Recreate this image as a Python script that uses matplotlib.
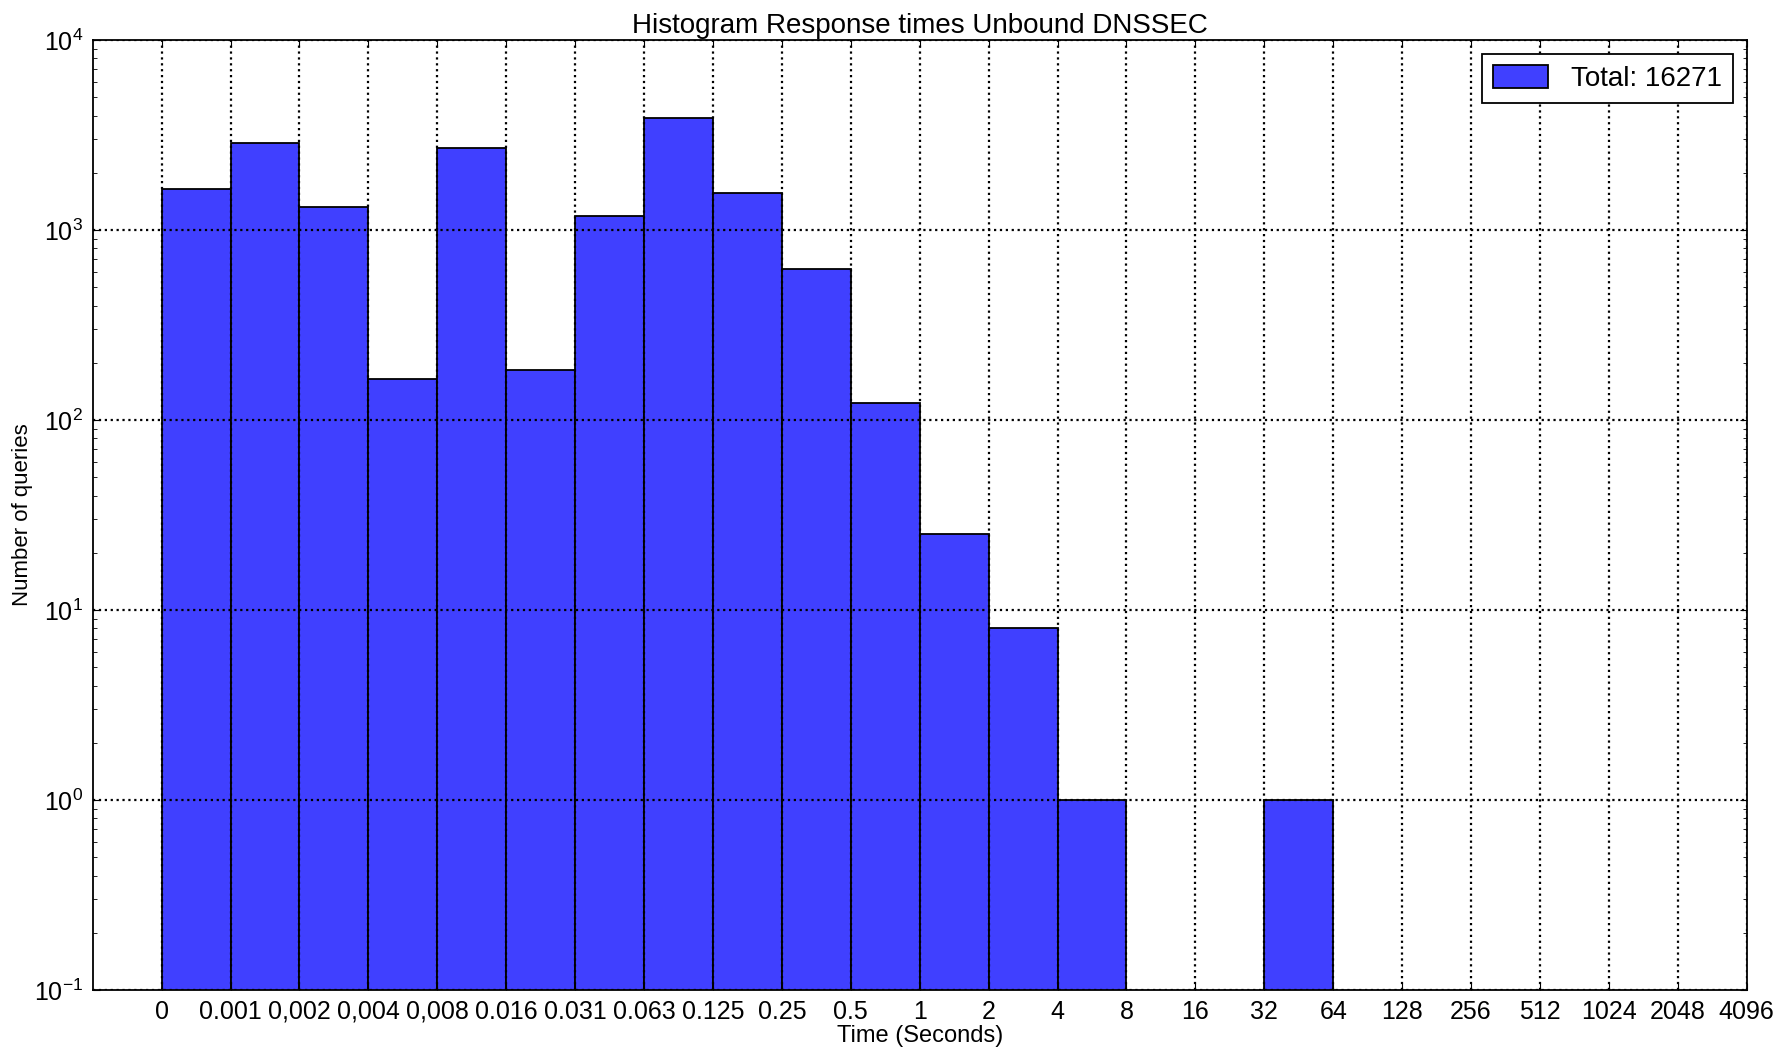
import matplotlib
matplotlib.use("Agg")
import matplotlib.pyplot as plt
import numpy as np

plt.rcParams['font.family'] = ['Liberation Sans', 'DejaVu Sans']

# bin edge labels (seconds) and query counts per bin
edge_labels = ['0', '0.001', '0,002', '0,004', '0,008', '0.016', '0.031', '0.063',
               '0.125', '0.25', '0.5', '1', '2', '4', '8', '16', '32', '64',
               '128', '256', '512', '1024', '2048', '4096']
counts = [1637, 2866, 1315, 164, 2698, 183, 1189, 3880, 1560, 621, 123, 25, 8, 1,
          0, 0, 1, 0, 0, 0, 0, 0, 0]

fig = plt.figure(figsize=(17.9, 10.48), dpi=100)
ax = fig.add_axes([0.0518, 0.0553, 0.924, 0.9065])

x = np.arange(len(counts))
ax.bar(x, counts, width=1, align='edge', color='#4040ff', edgecolor='black',
       linewidth=1.3, label='Total: %d' % sum(counts), zorder=1)

ax.set_yscale('log')
ax.set_ylim(1e-1, 1e4)
ax.set_xlim(-1, len(edge_labels) - 1)
ax.set_xticks(np.arange(len(edge_labels)))
ax.set_xticklabels(edge_labels)
ax.tick_params(axis='both', which='both', direction='in', top=True, right=True)
ax.tick_params(axis='x', which='major', length=5, labelsize=18, pad=7)
ax.tick_params(axis='y', which='major', length=5, labelsize=18, pad=7)
ax.tick_params(axis='both', which='minor', length=3)

ax.set_axisbelow(False)
ax.grid(True, which='major', color='black', linestyle=':', linewidth=1.6)

for s in ax.spines.values():
    s.set_linewidth(1.3)

ax.set_title('Histogram Response times Unbound DNSSEC', fontsize=20, pad=5)
ax.set_xlabel('Time (Seconds)', fontsize=17, labelpad=1)
ax.set_ylabel('Number of queries', fontsize=16)
ax.yaxis.set_label_coords(-0.036, 0.5)

leg = ax.legend(loc='upper right', fontsize=20, fancybox=False, framealpha=1,
                edgecolor='black', handlelength=2.0, handleheight=0.9,
                borderpad=0.4, borderaxespad=0.5)
leg.get_frame().set_linewidth(1.3)

fig.savefig('out.png', dpi=100)
